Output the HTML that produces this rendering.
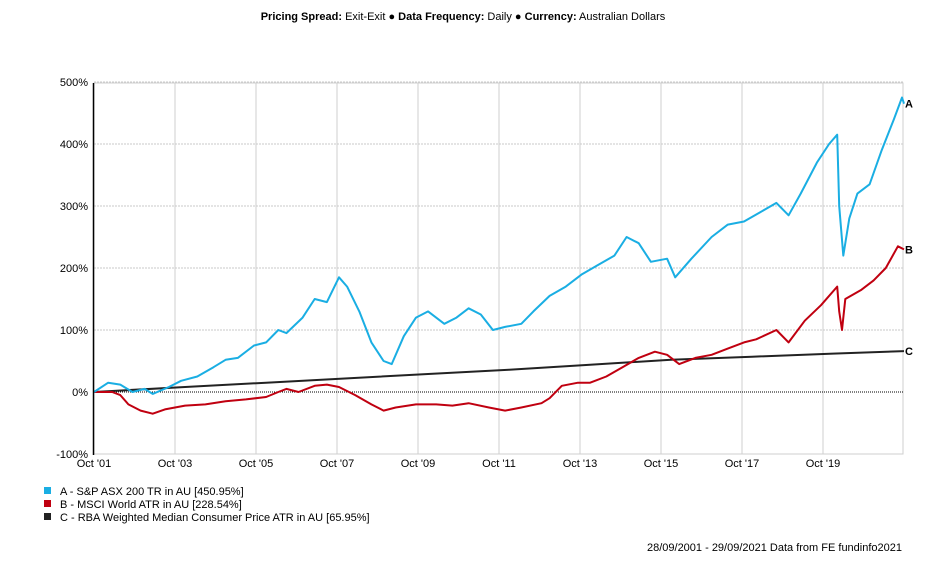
<!DOCTYPE html>
<html><head><meta charset="utf-8"><style>
body{margin:0;background:#fff;font-family:"Liberation Sans",Arial,sans-serif;}
#wrap{position:relative;width:934px;height:570px;overflow:hidden;}
</style></head><body>
<div id="wrap">
<svg id="svg" width="934" height="570" xmlns="http://www.w3.org/2000/svg" font-family="Liberation Sans, Arial, sans-serif" font-size="11">
<text x="463" y="20" text-anchor="middle"><tspan font-weight="bold">Pricing Spread:</tspan> Exit-Exit ● <tspan font-weight="bold">Data Frequency:</tspan> Daily ● <tspan font-weight="bold">Currency:</tspan> Australian Dollars</text>
<g id="grid"></g><g id="series"></g><g id="axes"></g>
<g>
<rect x="44" y="487" width="7" height="7" fill="#1aaee3"/>
<text x="60" y="495">A - S&amp;P ASX 200 TR in AU [450.95%]</text>
<rect x="44" y="500" width="7" height="7" fill="#c00010"/>
<text x="60" y="508">B - MSCI World ATR in AU [228.54%]</text>
<rect x="44" y="513" width="7" height="7" fill="#222"/>
<text x="60" y="521">C - RBA Weighted Median Consumer Price ATR in AU [65.95%]</text>
</g>
<text x="902" y="551" text-anchor="end">28/09/2001 - 29/09/2021 Data from FE fundinfo2021</text>
</svg>
</div>
<script>
const yTicks=[-100,0,100,200,300,400,500];
const xTickLabels=["Oct '01","Oct '03","Oct '05","Oct '07","Oct '09","Oct '11","Oct '13","Oct '15","Oct '17","Oct '19"];
const xTickYears=[2001.75,2003.75,2005.75,2007.75,2009.75,2011.75,2013.75,2015.75,2017.75,2019.75];
const timeA=[2001.75,2002.1,2002.4,2002.7,2003.0,2003.2,2003.6,2003.9,2004.3,2004.7,2005.0,2005.3,2005.7,2006.0,2006.3,2006.5,2006.9,2007.2,2007.5,2007.8,2008.0,2008.3,2008.6,2008.9,2009.1,2009.4,2009.7,2010.0,2010.4,2010.7,2011.0,2011.3,2011.6,2011.9,2012.3,2012.6,2013.0,2013.4,2013.8,2014.2,2014.6,2014.9,2015.2,2015.5,2015.9,2016.1,2016.5,2017.0,2017.4,2017.8,2018.2,2018.6,2018.9,2019.2,2019.6,2019.9,2020.1,2020.15,2020.25,2020.4,2020.6,2020.9,2021.2,2021.5,2021.7,2021.75];
const valuesA=[0,15,12,0,5,-3,8,18,25,40,52,55,75,80,100,95,120,150,145,185,170,130,80,50,45,90,120,130,110,120,135,125,100,105,110,130,155,170,190,205,220,250,240,210,215,185,215,250,270,275,290,305,285,320,370,400,415,300,220,280,320,335,390,440,475,465];
const timeB=[2001.75,2002.2,2002.4,2002.6,2002.9,2003.2,2003.5,2004.0,2004.5,2005.0,2005.5,2006.0,2006.3,2006.5,2006.8,2007.2,2007.5,2007.8,2008.2,2008.6,2008.9,2009.2,2009.7,2010.2,2010.6,2011.0,2011.5,2011.9,2012.3,2012.8,2013.0,2013.3,2013.7,2014.0,2014.4,2014.8,2015.2,2015.6,2015.9,2016.2,2016.6,2017.0,2017.4,2017.8,2018.1,2018.6,2018.9,2019.3,2019.7,2020.1,2020.15,2020.22,2020.3,2020.7,2021.0,2021.3,2021.6,2021.75];
const valuesB=[0,0,-5,-20,-30,-35,-28,-22,-20,-15,-12,-8,0,5,0,10,12,8,-5,-20,-30,-25,-20,-20,-22,-18,-25,-30,-25,-18,-10,10,15,15,25,40,55,65,60,45,55,60,70,80,85,100,80,115,140,170,130,100,150,165,180,200,235,230];
const timeC=[2001.75,2004,2006,2008,2010,2012,2014,2016,2018,2020,2021.75];
const valuesC=[0,8,15,22,29,36,44,52,57,62,66];
const X0=94,X1=904,T0=2001.75,T1=2021.75,Y0=392,PX=0.62;
const xs=t=>X0+(t-T0)/(T1-T0)*(X1-X0);
const ys=v=>Y0-v*PX;
const NS="http://www.w3.org/2000/svg";
function mk(tag,attrs,parent){const e=document.createElementNS(NS,tag);for(const k in attrs)e.setAttribute(k,attrs[k]);document.getElementById(parent).appendChild(e);return e;}
yTicks.forEach(v=>{
  if(v!==-100&&v!==0){const l=mk('line',{x1:X0,x2:903,y1:ys(v),y2:ys(v),stroke:'#c8c8c8','stroke-dasharray':'2,1'},'grid');
  
  }
  const t=mk('text',{x:88,y:ys(v)+4,'text-anchor':'end'},'axes');t.textContent=v+'%';
  
  
});
xTickYears.forEach((yr,i)=>{
  if(i>0){const l=mk('line',{x1:xs(yr),x2:xs(yr),y1:83,y2:454,stroke:'#cfcfcf'},'grid');
  
  }
  const t=mk('text',{x:xs(yr),y:467,'text-anchor':'middle'},'axes');t.textContent=xTickLabels[i];
  
  
});
let b=mk('rect',{x:X0,y:83,width:903-X0,height:371,fill:'none',stroke:'#cfcfcf'},'grid');


let z=mk('line',{x1:X0,x2:903,y1:Y0,y2:Y0,stroke:'#000','stroke-dasharray':'1,1'},'grid');


let ax=mk('line',{x1:X0-0.5,x2:X0-0.5,y1:83,y2:455,stroke:'#000','stroke-width':1.5},'axes');


function series(T,V,color,name,lab){
  const p=mk('polyline',{points:T.map((t,i)=>xs(t).toFixed(1)+','+ys(V[i]).toFixed(1)).join(' '),fill:'none',stroke:color,'stroke-width':2,'stroke-linejoin':'round'},'series');
  
  
  const t=mk('text',{x:905,y:ys(V[V.length-1])+4,'font-weight':'bold'},'series');t.textContent=lab;
  
  
}
series(timeC,valuesC,'#222','series-c-line','C');
series(timeB,valuesB,'#c00010','series-b-line','B');
series(timeA,valuesA,'#1aaee3','series-a-line','A');
</script>
</body></html>
